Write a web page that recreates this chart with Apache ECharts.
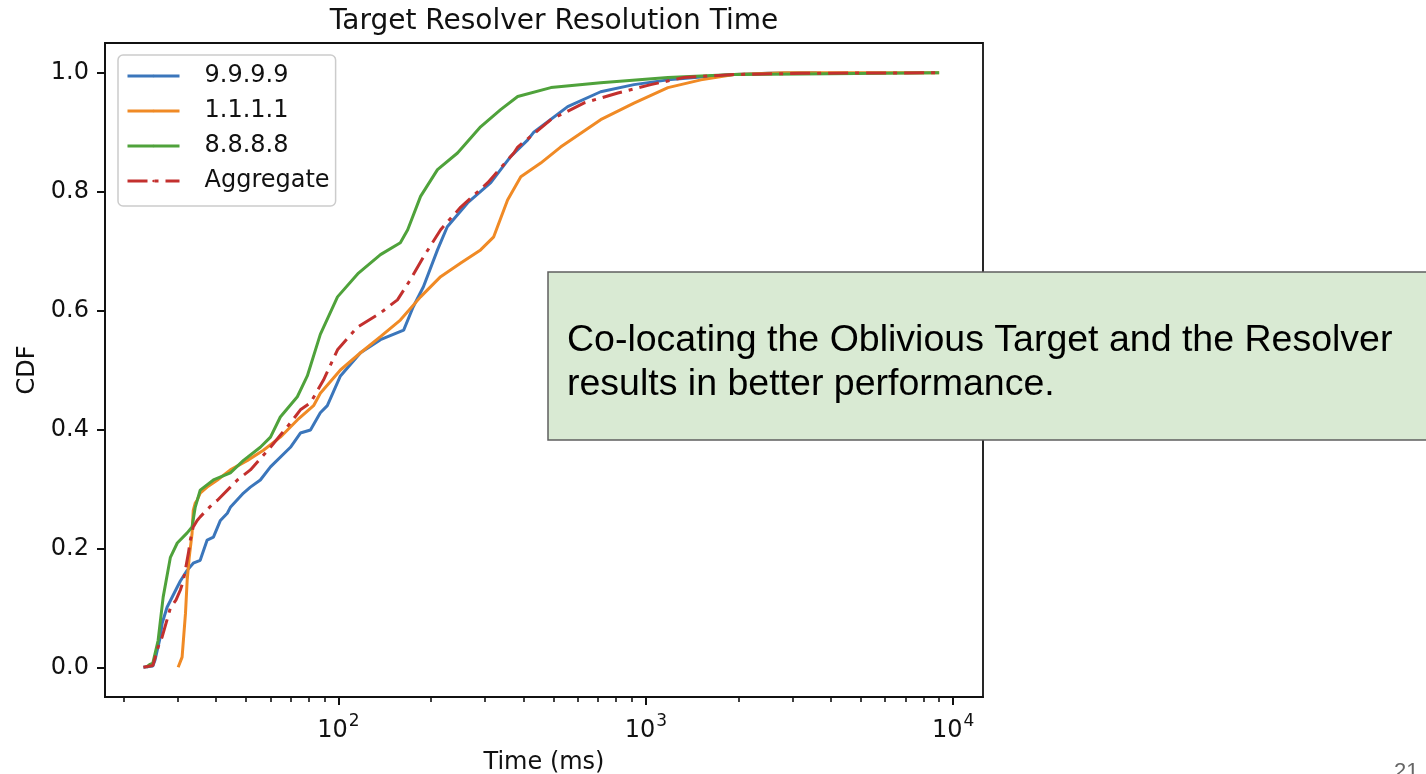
<!DOCTYPE html>
<html>
<head>
<meta charset="utf-8">
<script src="https://cdn.jsdelivr.net/npm/echarts@6/dist/echarts.min.js"></script>
<style>
html,body{margin:0;padding:0;background:#fff;}
#chart{width:1426px;height:774px;}
</style>
</head>
<body>
<div id="chart"></div>
<script>
// ---- data (time in ms, CDF) ----
const seriesNames = ['9.9.9.9', '1.1.1.1', '8.8.8.8', 'Aggregate'];

const blueTime = [23.2, 24.9, 25.3, 26.3, 26.7, 27.7, 29.9, 30.6, 32.2, 33.7, 35.5, 37.4, 39.2, 41.3, 43.5, 44.5, 49.1, 51.7, 55.7, 60.1, 69.8, 75.2, 81.1, 87.3, 92.0, 101.5, 118, 137, 163, 175, 189, 210, 226, 263, 313, 363, 413, 432, 557, 713, 915, 1180, 1511, 1936, 2500, 3600];
const blueCdf = [0, 0.002, 0.012, 0.05, 0.074, 0.101, 0.135, 0.145, 0.163, 0.175, 0.18, 0.214, 0.219, 0.247, 0.259, 0.269, 0.293, 0.303, 0.315, 0.337, 0.37, 0.394, 0.399, 0.428, 0.44, 0.49, 0.529, 0.551, 0.567, 0.606, 0.64, 0.702, 0.741, 0.781, 0.815, 0.859, 0.887, 0.9, 0.943, 0.968, 0.98, 0.988, 0.993, 0.997, 0.999, 1.0];

const orangeTime = [30.1, 31.0, 31.8, 32.2, 32.7, 33.4, 33.7, 34.2, 34.7, 35.5, 37.4, 40.4, 44.5, 50.6, 57.0, 64.7, 73.5, 83.0, 87.3, 101.5, 118, 137, 159, 185, 215, 250, 290, 320, 355, 392, 455, 528, 713, 915, 1180, 1511, 1936, 2818, 9000];
const orangeCdf = [0, 0.017, 0.091, 0.146, 0.185, 0.225, 0.264, 0.276, 0.281, 0.293, 0.303, 0.315, 0.332, 0.348, 0.365, 0.387, 0.416, 0.44, 0.461, 0.5, 0.529, 0.556, 0.584, 0.623, 0.657, 0.68, 0.702, 0.724, 0.786, 0.825, 0.848, 0.875, 0.921, 0.949, 0.975, 0.988, 0.997, 1.0, 1.0];

const greenTime = [23.7, 24.4, 24.9, 25.9, 26.9, 28.4, 29.9, 32.2, 33.4, 34.2, 35.5, 39.2, 44.5, 49.1, 55.7, 60.1, 64.7, 73.5, 79.2, 87.3, 99.3, 116.2, 137, 159, 168, 185, 210, 244, 290, 337, 383, 491, 713, 1180, 1936, 3200, 9000];
const greenCdf = [0, 0.005, 0.007, 0.045, 0.118, 0.185, 0.209, 0.226, 0.236, 0.269, 0.298, 0.315, 0.327, 0.348, 0.37, 0.387, 0.421, 0.455, 0.49, 0.56, 0.623, 0.663, 0.694, 0.714, 0.736, 0.792, 0.837, 0.865, 0.909, 0.938, 0.96, 0.975, 0.983, 0.992, 0.997, 0.998, 1.0];

const redTime = [23.2, 24.9, 25.9, 26.7, 27.7, 28.4, 29.6, 30.6, 31.3, 32.5, 33.0, 33.7, 34.7, 35.5, 39.2, 40.4, 44.5, 46.9, 51.7, 60.1, 69.8, 75.2, 81.1, 89.4, 99.3, 115.3, 137, 155.6, 171.5, 189, 215, 250, 306, 372, 383, 491, 628, 811, 1038, 1330, 1936, 3200, 9000];
const redCdf = [0, 0.003, 0.034, 0.051, 0.08, 0.10, 0.113, 0.13, 0.146, 0.192, 0.215, 0.236, 0.247, 0.253, 0.276, 0.281, 0.303, 0.315, 0.332, 0.37, 0.411, 0.433, 0.445, 0.483, 0.534, 0.572, 0.596, 0.618, 0.652, 0.69, 0.736, 0.774, 0.815, 0.865, 0.875, 0.921, 0.949, 0.966, 0.98, 0.992, 0.997, 0.999, 1.0];

const yTicks = [0, 0.2, 0.4, 0.6, 0.8, 1.0];
const xMajorTicks = [100, 1000, 10000];
const xMinorTicks = [20, 30, 40, 50, 60, 70, 80, 90, 200, 300, 400, 500, 600, 700, 800, 900, 2000, 3000, 4000, 5000, 6000, 7000, 8000, 9000];

const titleText = 'Target Resolver Resolution Time';
const xName = 'Time (ms)';
const yName = 'CDF';
const noteText = 'Co-locating the Oblivious Target and the Resolver\nresults in better performance.';
const slideNumber = '21';

// ---- build ----
function pairs(t, c) { return t.map((v, i) => [v, c[i]]); }
const colors = ['#3b76bb', '#f08a25', '#4fa23b', '#c3302e'];
const FONT = 'DejaVu Sans';
const XMIN = 17.4, XMAX = 12500;

const chart = echarts.init(document.getElementById('chart'), null, {renderer: 'canvas'});
const mk = (name, data, color, dash) => ({
  name: name, type: 'line', data: data, xAxisIndex: 0, yAxisIndex: 0,
  symbol: 'none', showSymbol: false, smooth: false, animation: false,
  lineStyle: {color: color, width: 3, type: dash || 'solid'},
  itemStyle: {color: color}
});

chart.setOption({
  animation: false,
  backgroundColor: '#ffffff',
  title: {
    text: titleText, left: 549, top: 3, textAlign: 'center',
    textStyle: {fontFamily: FONT, fontSize: 28, fontWeight: 'normal', color: '#111'}
  },
  grid: {left: 105, right: 443, top: 43, bottom: 77, outerBoundsMode: 'none', containLabel: false,
    show: true, borderColor: '#111', borderWidth: 1.8, backgroundColor: 'transparent'},
  legend: {
    orient: 'vertical', left: 118, top: 55,
    padding: [9, 6, 13, 8],
    itemWidth: 52, itemHeight: 3, itemGap: 11,
    backgroundColor: 'rgba(255,255,255,0.85)', borderColor: '#cccccc', borderWidth: 1.5, borderRadius: 5,
    lineStyle: {width: 3},
    textStyle: {fontFamily: FONT, fontSize: 24, color: '#111', padding: [0, 0, 0, 20]},
    data: seriesNames
  },
  xAxis: [{
    type: 'log', logBase: 10, min: XMIN, max: XMAX, position: 'bottom',
    name: xName, nameLocation: 'middle', nameGap: 54,
    nameTextStyle: {fontFamily: FONT, fontSize: 24, color: '#111'},
    axisLine: {show: true, onZero: false, lineStyle: {color: '#111', width: 1.8}},
    axisTick: {show: true, customValues: xMajorTicks, length: 8, lineStyle: {color: '#111', width: 2}},
    axisLabel: {
      show: true, customValues: xMajorTicks, margin: 16,
      formatter: function (v) { return '{b|10}{s|' + Math.round(Math.log10(v)) + '}'; },
      rich: {
        b: {fontFamily: FONT, fontSize: 24, color: '#111', verticalAlign: 'bottom'},
        s: {fontFamily: FONT, fontSize: 17, color: '#111', verticalAlign: 'bottom', padding: [0, 0, 13, 1]}
      }
    },
    splitLine: {show: false}, minorTick: {show: false}, minorSplitLine: {show: false}
  }, {
    type: 'log', logBase: 10, min: XMIN, max: XMAX, position: 'bottom',
    axisLine: {show: false, onZero: false},
    axisTick: {show: true, customValues: xMinorTicks, length: 5, lineStyle: {color: '#111', width: 1.6}},
    axisLabel: {show: false},
    splitLine: {show: false}
  }],
  yAxis: [{
    type: 'value', min: -0.05, max: 1.05,
    name: yName, nameLocation: 'middle', nameGap: 63, nameRotate: 90,
    nameTextStyle: {fontFamily: FONT, fontSize: 24, color: '#111'},
    axisLine: {show: true, onZero: false, lineStyle: {color: '#111', width: 1.8}},
    axisTick: {show: true, customValues: yTicks, length: 8, lineStyle: {color: '#111', width: 2}},
    axisLabel: {
      show: true, customValues: yTicks, margin: 16,
      fontFamily: FONT, fontSize: 24, color: '#111',
      formatter: function (v) { return v.toFixed(1); }
    },
    splitLine: {show: false}
  }],
  series: [
    mk(seriesNames[0], pairs(blueTime, blueCdf), colors[0]),
    mk(seriesNames[1], pairs(orangeTime, orangeCdf), colors[1]),
    mk(seriesNames[2], pairs(greenTime, greenCdf), colors[2]),
    mk(seriesNames[3], pairs(redTime, redCdf), colors[3], [20, 7, 4, 7])
  ],
  graphic: [{
    type: 'rect', z: 100,
    shape: {x: 548, y: 272, width: 900, height: 168},
    style: {fill: '#d9ead3', stroke: '#5f5f5f', lineWidth: 1.5}
  }, {
    type: 'text', z: 101, x: 567, y: 319,
    style: {text: noteText, font: '37.5px "Liberation Sans", Arial, sans-serif', fill: '#000', lineHeight: 44}
  }, {
    type: 'text', z: 101, x: 1394, y: 761,
    style: {text: slideNumber, font: '22px "Liberation Sans", Arial, sans-serif', fill: '#666'}
  }]
});
</script>
</body>
</html>
